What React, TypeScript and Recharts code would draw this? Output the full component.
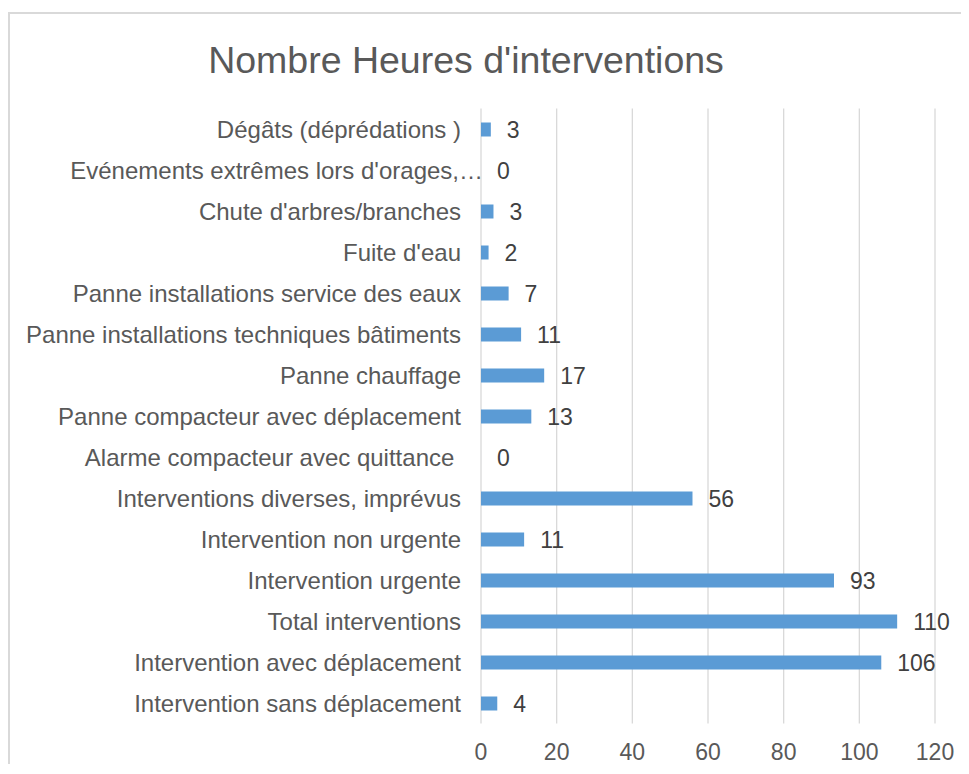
import { BarChart, Bar, XAxis, YAxis, CartesianGrid, LabelList } from 'recharts'

// categories, top to bottom as drawn
const categories = [
  'Dégâts (déprédations )',
  "Evénements extrêmes lors d'orages,…",
  "Chute d'arbres/branches",
  "Fuite d'eau",
  'Panne installations service des eaux',
  'Panne installations techniques bâtiments',
  'Panne chauffage',
  'Panne compacteur avec déplacement',
  'Alarme compacteur avec quittance ',
  'Interventions diverses, imprévus',
  'Intervention non urgente',
  'Intervention urgente',
  'Total interventions',
  'Intervention avec déplacement',
  'Intervention sans déplacement',
]

// hours (labels are rounded)
const hours = [2.6, 0, 3.3, 2.0, 7.3, 10.6, 16.7, 13.3, 0, 55.9, 11.4, 93.3, 110, 105.8, 4.3]

const xTicks = [0, 20, 40, 60, 80, 100, 120]

const chartData = categories.map((name, i) => ({ name, hours: hours[i] }))

const TEXT = '#595959'
const FONT = '"Liberation Sans", Arial, sans-serif'

function CategoryTick({ x, y, payload }: any) {
  const label: string = payload.value
  // Excel lets the truncated label run over the axis
  const shift = label.endsWith('…') ? 22 : 0
  return (
    <text
      x={x + shift}
      y={y}
      dy="0.355em"
      textAnchor="end"
      fill={TEXT}
      fontSize={24}
      fontFamily={FONT}
      style={{ whiteSpace: 'pre' }}
    >
      {label}
    </text>
  )
}

export default function App() {
  return (
    <div
      style={{
        position: 'relative',
        marginTop: 4,
        width: 959,
        height: 750,
        borderTop: '2px solid #d9d9d9',
        borderLeft: '2px solid #d9d9d9',
        fontFamily: FONT,
      }}
    >
      <div
        style={{
          position: 'absolute',
          left: 0,
          top: 28,
          width: 912,
          textAlign: 'center',
          fontSize: 37.5,
          lineHeight: '36px',
          color: TEXT,
        }}
      >
        Nombre Heures d'interventions
      </div>
      <BarChart
        layout="vertical"
        width={959}
        height={750}
        data={chartData}
        margin={{ top: 94.5, right: 34, left: 0, bottom: 0 }}
      >
        <CartesianGrid horizontal={false} stroke="#d9d9d9" strokeWidth={1.3} />
        <XAxis
          type="number"
          domain={[0, 120]}
          ticks={xTicks}
          height={40.5}
          axisLine={false}
          tickLine={false}
          tickSize={0}
          tickMargin={20}
          tick={{ fontSize: 23, fill: TEXT, fontFamily: FONT }}
        />
        <YAxis
          type="category"
          dataKey="name"
          width={471}
          axisLine={false}
          tickLine={false}
          tickSize={0}
          tickMargin={20}
          interval={0}
          tick={<CategoryTick />}
        />
        <Bar
          dataKey="hours"
          fill="#5b9bd5"
          barSize={14}
          minPointSize={0.01}
          isAnimationActive={false}
        >
          <LabelList
            dataKey="hours"
            position="right"
            offset={16}
            formatter={(v: any) => Math.round(Number(v))}
            style={{ fontSize: 23, fill: '#404040', fontFamily: FONT }}
          />
        </Bar>
      </BarChart>
    </div>
  )
}
